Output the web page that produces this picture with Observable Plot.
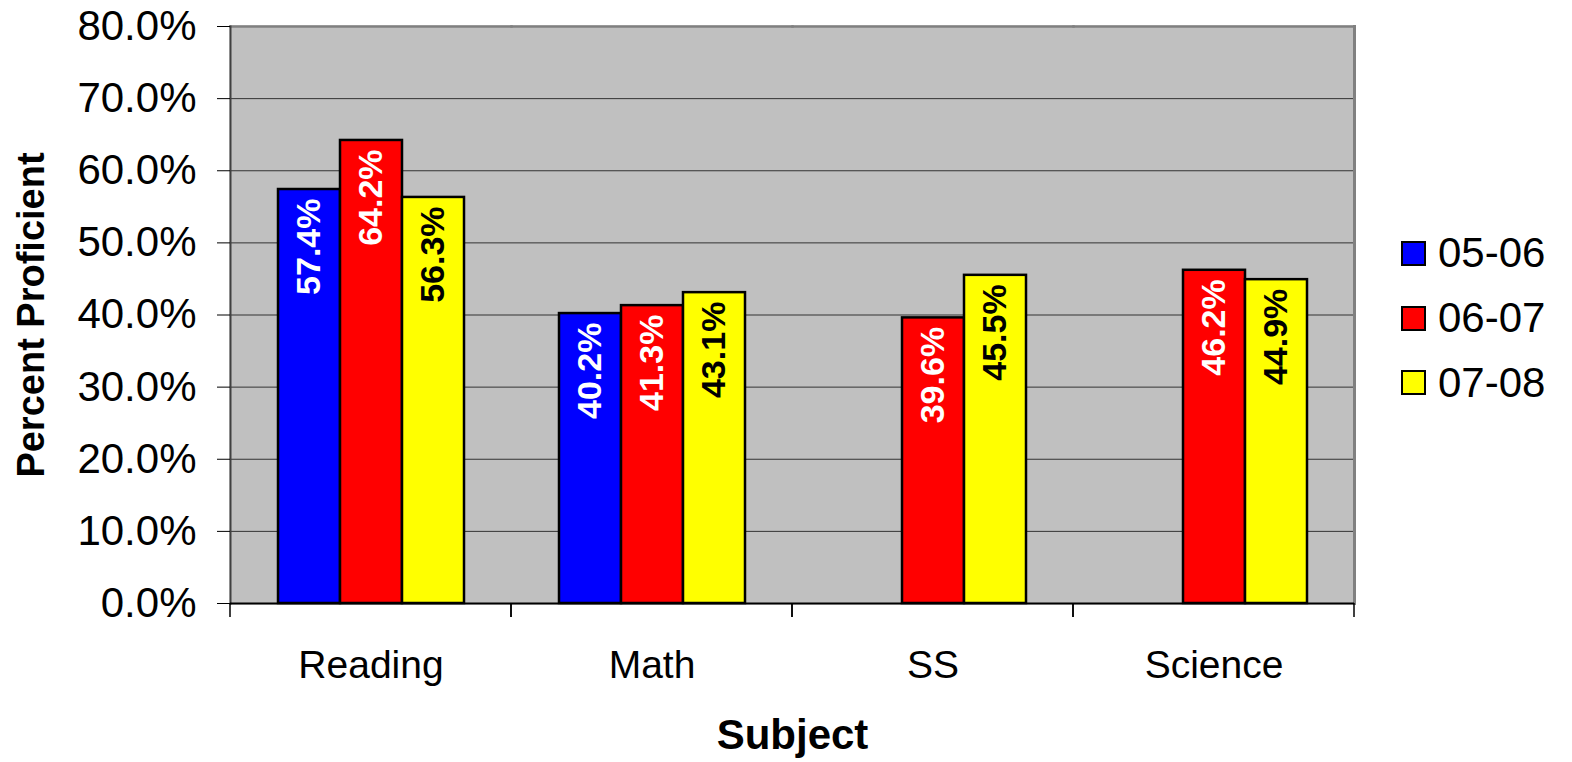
<!DOCTYPE html>
<html><head><meta charset="utf-8">
<script src="https://cdn.jsdelivr.net/npm/d3@7"></script>
<script src="https://cdn.jsdelivr.net/npm/@observablehq/plot@0.6"></script>
<style>
html,body{margin:0;padding:0;background:#fff;}
#wrap{position:relative;width:1572px;height:762px;font-family:"Liberation Sans",Arial,sans-serif;}
#legend{position:absolute;left:1401px;top:221px;}
.row{display:flex;align-items:center;height:64.7px;}
.sw{width:21px;height:21px;border:2px solid #000;margin-right:12px;}
.lab{font-size:42px;line-height:1;color:#000;}
</style></head><body><div id="wrap"><div id="legend"></div></div>
<script>
// ---- data ----
const subjects = ["Reading", "Math", "SS", "Science"];
const series = ["05-06", "06-07", "07-08"];
const v0506 = [0.574, 0.402, null, null];
const v0607 = [0.642, 0.413, 0.396, 0.462];
const v0708 = [0.563, 0.431, 0.455, 0.449];
const yTicks = [0, 0.1, 0.2, 0.3, 0.4, 0.5, 0.6, 0.7, 0.8];
const colors = ["#0000ff", "#ff0000", "#ffff00"];
const labelColors = ["#ffffff", "#ffffff", "#000000"];
const yTitle = "Percent Proficient";
const xTitle = "Subject";

const valuesBySeries = [v0506, v0607, v0708];
const rows = [];
series.forEach((s, j) => subjects.forEach((sub, i) => {
  const v = valuesBySeries[j][i];
  if (v != null) rows.push({subject: sub, series: s, value: v});
}));
const fmt = d3.format(".1%");

function edgeTicks(index, scales, values, dims) {
  const g = d3.create("svg:g");
  const y0 = dims.height - dims.marginBottom;
  for (const x of [dims.marginLeft, dims.width - dims.marginRight]) {
    g.append("line").attr("x1", x).attr("x2", x).attr("y1", y0).attr("y2", y0 + 14)
      .attr("stroke", "#000").attr("stroke-width", 1.5);
  }
  return g.node();
}

const chart = Plot.plot({
  width: 1572,
  height: 762,
  marginTop: 26,
  marginBottom: 159,
  marginLeft: 228,
  marginRight: 217,
  style: {fontFamily: '"Liberation Sans", Arial, sans-serif', color: "#000", background: "transparent"},
  fx: {domain: subjects, padding: 0},
  x: {domain: series, paddingInner: 0, paddingOuter: 0.75, axis: null},
  y: {domain: [0, 0.8]},
  color: {domain: series, range: colors},
  marks: [
    Plot.frame({fill: "#c0c0c0", stroke: "#c0c0c0", strokeWidth: 2}),
    Plot.gridY(yTicks, {stroke: "#333", strokeOpacity: 1, strokeWidth: 1}),
    Plot.frame({anchor: "top", stroke: "#808080", strokeWidth: 2.5}),
    Plot.frame({anchor: "right", stroke: "#808080", strokeWidth: 3, fx: () => subjects[subjects.length - 1]}),
    Plot.frame({anchor: "left", stroke: "#404040", strokeWidth: 2, fx: () => subjects[0]}),
    Plot.barY(rows, {fx: "subject", x: "series", y: "value", fill: "series", stroke: "#000", strokeWidth: 2.5}),
    ...series.map((s, j) => Plot.text(rows.filter(d => d.series === s), {
      fx: "subject", x: "series", y: "value", text: d => fmt(d.value),
      rotate: -90, textAnchor: "end", lineAnchor: "middle", dy: 9,
      fill: labelColors[j], fontSize: 34, fontWeight: "bold"
    })),
    Plot.ruleY([0], {stroke: "#000", strokeWidth: 2}),
    Plot.frame({stroke: "none", render: edgeTicks}),
    Plot.axisY({ticks: yTicks, tickFormat: fmt, tickSize: 13, tickPadding: 21, fontSize: 42, label: null, stroke: "#000"}),
    Plot.axisY({ticks: [], tickSize: 0, label: yTitle, labelAnchor: "center", labelOffset: 213, labelArrow: "none", fontSize: 38, fontWeight: "bold"}),
    Plot.axisFx({anchor: "bottom", tickSize: 0, tickPadding: 47, fontSize: 39, label: null}),
    Plot.axisFx({anchor: "bottom", ticks: [], tickSize: 0, label: xTitle, labelAnchor: "center", labelOffset: 145, labelArrow: "none", fontSize: 42, fontWeight: "bold"})
  ]
});
document.getElementById("wrap").prepend(chart);

// legend
const legend = d3.select("#legend");
series.forEach((s, j) => {
  const row = legend.append("div").attr("class", "row");
  row.append("div").attr("class", "sw").style("background", colors[j]);
  row.append("div").attr("class", "lab").text(s);
});
</script>
</body></html>
